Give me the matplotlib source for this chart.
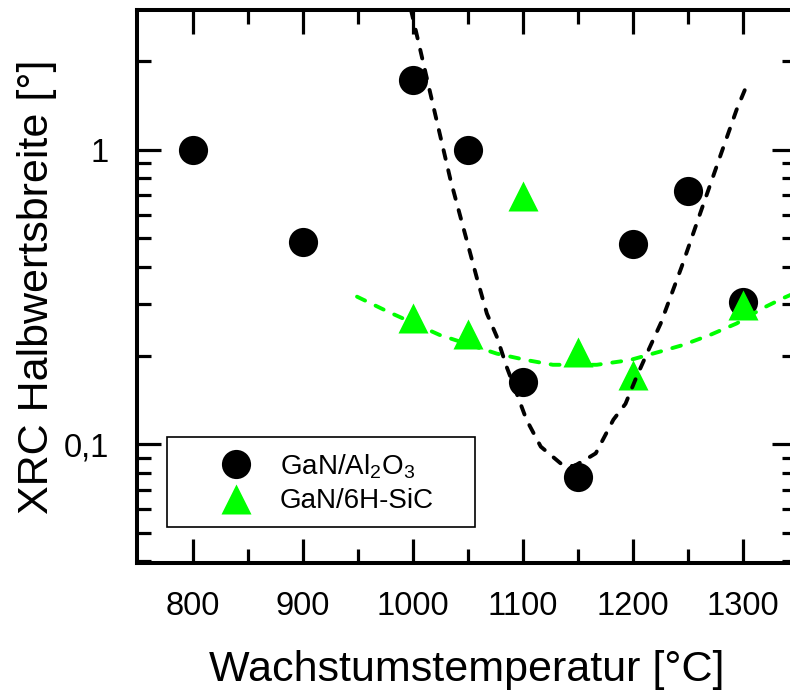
import numpy as np
import matplotlib
matplotlib.use('Agg')
import matplotlib.pyplot as plt
from matplotlib.patches import Rectangle
from matplotlib.ticker import FixedLocator, FixedFormatter, LogLocator, NullFormatter

plt.rcParams['font.family'] = ['Liberation Sans', 'DejaVu Sans']
plt.rcParams['mathtext.fontset'] = 'custom'
plt.rcParams['mathtext.rm'] = 'Liberation Sans'
plt.rcParams['mathtext.it'] = 'Liberation Sans:italic'

# GaN on sapphire
temp_al2o3 = [800, 900, 1000, 1050, 1100, 1150, 1200, 1250, 1300]
fwhm_al2o3 = [1.0, 0.488, 1.73, 1.0, 0.163, 0.077, 0.479, 0.727, 0.303]

# GaN on 6H-SiC
temp_sic = [1000, 1050, 1100, 1150, 1200, 1300]
fwhm_sic = [0.268, 0.237, 0.698, 0.206, 0.172, 0.296]

# dashed guide curves
guide_al2o3_x = [998, 1017, 1034, 1058, 1067, 1076, 1085, 1094, 1103, 1116, 1134,
                 1146, 1161, 1166, 1182, 1193, 1203, 1214, 1225, 1234, 1244, 1261,
                 1279, 1294, 1305]
guide_al2o3_y = [3.0, 1.48, 0.79, 0.366, 0.278, 0.232, 0.183, 0.149, 0.121, 0.098, 0.086,
                 0.084, 0.0906, 0.093, 0.121, 0.137, 0.169, 0.209, 0.257, 0.317, 0.40, 0.61,
                 0.95, 1.37, 1.72]

guide_sic_x = [949, 977, 1024, 1076, 1103, 1127, 1167, 1197, 1224, 1245, 1270, 1294,
               1318, 1336, 1350]
guide_sic_y = [0.317, 0.282, 0.235, 0.203, 0.193, 0.186, 0.186, 0.193, 0.206, 0.217,
               0.235, 0.257, 0.290, 0.313, 0.33]

ytick_vals = [0.1, 1]
ytick_labels = ['0,1', '1']
xtick_vals = [800, 900, 1000, 1100, 1200, 1300]

green = '#00ff00'

fig = plt.figure(figsize=(7.9, 6.91), dpi=100)
ax = fig.add_axes([0.1734, 0.1852, 0.8342, 0.8003])

ax.plot(temp_al2o3, fwhm_al2o3, 'o', color='black', ms=21, mec='none', zorder=2,
        label='GaN/Al$_\\mathregular{2}$O$_\\mathregular{3}$')
ax.plot(temp_sic, fwhm_sic, '^', color=green, ms=22, mec='none', zorder=3,
        label='GaN/6H-SiC')

ax.plot(guide_sic_x, guide_sic_y, color=green, lw=2.8, dashes=(2.3, 3.0),
        dash_capstyle='round', zorder=4)
ax.plot(guide_al2o3_x, guide_al2o3_y, color='black', lw=2.8, dashes=(2.3, 3.0),
        dash_capstyle='round', zorder=4)

ax.set_yscale('log')
ax.set_xlim(749, 1348)
ax.set_ylim(0.0394, 2.99)

ax.xaxis.set_major_locator(FixedLocator(xtick_vals))
ax.xaxis.set_minor_locator(FixedLocator([850, 950, 1050, 1150, 1250]))
ax.yaxis.set_major_locator(FixedLocator(ytick_vals))
ax.yaxis.set_major_formatter(FixedFormatter(ytick_labels))
ax.yaxis.set_minor_locator(LogLocator(base=10, subs=np.arange(2, 10)))
ax.yaxis.set_minor_formatter(NullFormatter())

ax.tick_params(which='both', direction='in', top=True, right=True, width=2.3)
ax.tick_params(which='major', length=17, labelsize=23.5, pad=20)
ax.tick_params(which='minor', length=10)
for s in ax.spines.values():
    s.set_linewidth(2.9)

ax.set_xlabel('Wachstumstemperatur [°C]', fontsize=31, labelpad=20)
ax.set_ylabel('XRC Halbwertsbreite [°]', fontsize=31, labelpad=5)

ax.add_patch(Rectangle((0.0455, 0.0651), 0.4674, 0.1627, transform=ax.transAxes,
                       fill=False, edgecolor='black', lw=1.2, zorder=5))
ax.legend(loc='upper left', bbox_to_anchor=(0.1244, 0.2005), frameon=False,
          borderaxespad=0, borderpad=0, handlelength=1.2, handletextpad=1.0,
          labelspacing=0.28, fontsize=20)

fig.savefig('out.png', dpi=100)
